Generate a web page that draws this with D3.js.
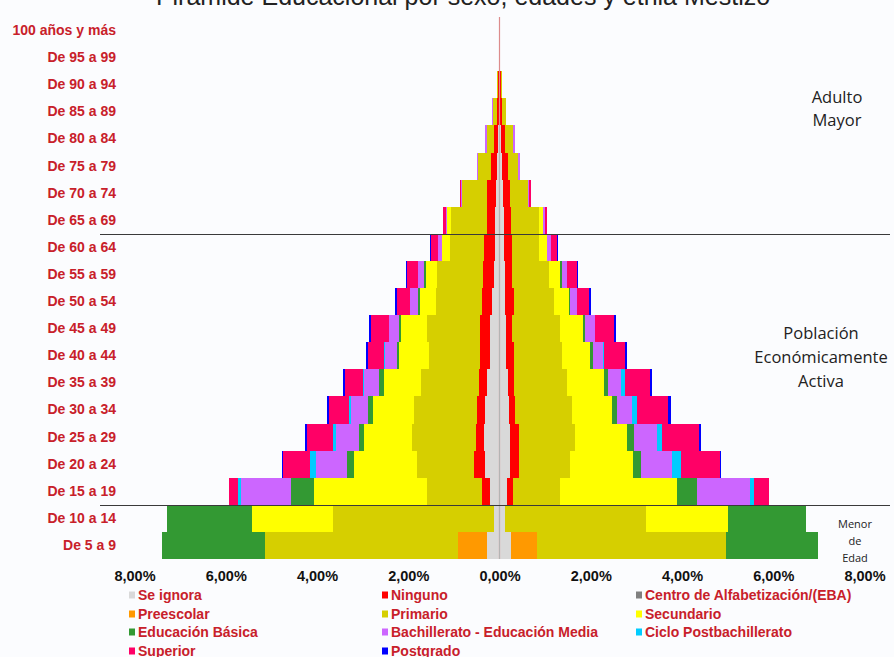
<!DOCTYPE html>
<html><head><meta charset="utf-8">
<script src="https://cdn.jsdelivr.net/npm/d3@7/dist/d3.min.js"></script>
<style>body{margin:0;background:#fbfcfe;} svg{display:block}</style>
</head><body>
<svg id="c" width="894" height="657"></svg>
<script>
const title = "Pirámide Educacional por sexo,  edades y etnia  Mestizo";
const ageGroups = ["100 años y más","De 95 a 99","De 90 a 94","De 85 a 89","De 80 a 84","De 75 a 79","De 70 a 74","De 65 a 69","De 60 a 64","De 55 a 59","De 50 a 54","De 45 a 49","De 40 a 44","De 35 a 39","De 30 a 34","De 25 a 29","De 20 a 24","De 15 a 19","De 10 a 14","De 5 a 9"];
const categories = ["Se ignora","Ninguno","Centro de Alfabetización/(EBA)","Preescolar","Primario","Secundario","Educación Básica","Bachillerato - Educación Media","Ciclo Postbachillerato","Superior","Postgrado"];
const colors = ["#d9d9d9","#ff0000","#808080","#ff9900","#d6cf00","#ffff00","#339933","#cc66ff","#00ccff","#ff0066","#0000ff"];
const xTicks = [-8,-6,-4,-2,0,2,4,6,8];

// Left side (% of population), in ageGroups order
const leftSeIgnora   = [0,0,0,0.01,0.03,0.05,0.07,0.09,0.10,0.12,0.16,0.20,0.20,0.27,0.31,0.34,0.31,0.20,0.13,0.27];
const leftNinguno    = [0.005,0.01,0.03,0.05,0.10,0.13,0.20,0.19,0.23,0.24,0.22,0.22,0.22,0.18,0.18,0.18,0.24,0.18,0,0];
const leftCentro     = [0,0,0,0,0,0,0,0,0,0,0,0,0,0,0,0,0,0,0,0];
const leftPreescolar = [0,0,0,0,0,0,0,0,0,0,0,0,0,0,0,0,0,0,0,0.63];
const leftPrimario   = [0,0,0.02,0.09,0.15,0.29,0.55,0.78,0.76,1.00,1.02,1.16,1.13,1.28,1.38,1.39,1.26,1.22,3.53,4.23];
const leftSecundario = [0,0,0,0,0,0,0,0.08,0.16,0.26,0.34,0.57,0.65,0.80,0.90,1.06,1.37,2.46,1.76,0];
const leftBasica     = [0,0,0,0,0,0,0,0,0.02,0.03,0.05,0.05,0.05,0.11,0.11,0.11,0.16,0.51,1.86,2.26];
const leftBach       = [0,0,0,0.02,0.04,0.03,0.03,0.04,0.07,0.14,0.17,0.23,0.26,0.33,0.38,0.50,0.68,1.09,0,0];
const leftCiclo      = [0,0,0,0,0,0,0,0,0,0,0,0,0.02,0.03,0.03,0.08,0.13,0.07,0,0];
const leftSuperior   = [0,0,0,0,0,0,0.02,0.05,0.17,0.23,0.28,0.39,0.35,0.38,0.44,0.56,0.60,0.19,0,0];
const leftPostgrado  = [0,0,0,0,0,0,0,0,0.02,0.04,0.05,0.05,0.05,0.04,0.05,0.04,0.02,0,0,0];

// Right side
const rightSeIgnora   = [0,0,0,0.01,0.03,0.05,0.07,0.09,0.10,0.12,0.13,0.15,0.15,0.18,0.20,0.22,0.22,0.17,0.13,0.26];
const rightNinguno    = [0.005,0.01,0.03,0.05,0.10,0.13,0.16,0.17,0.18,0.16,0.18,0.13,0.16,0.13,0.15,0.20,0.20,0.12,0,0];
const rightCentro     = [0,0,0,0,0,0,0,0,0,0,0,0,0,0,0,0,0,0,0,0];
const rightPreescolar = [0,0,0,0,0,0,0,0,0,0,0,0,0,0,0,0,0,0,0,0.56];
const rightPrimario   = [0,0,0.02,0.08,0.17,0.22,0.39,0.60,0.58,0.80,0.88,1.05,1.06,1.17,1.24,1.24,1.13,1.04,3.08,4.14];
const rightSecundario = [0,0,0,0,0,0,0,0.09,0.18,0.25,0.33,0.49,0.62,0.80,0.87,1.13,1.37,2.55,1.80,0];
const rightBasica     = [0,0,0,0,0,0,0,0,0.01,0.04,0.03,0.06,0.06,0.10,0.11,0.15,0.18,0.44,1.70,2.01];
const rightBach       = [0,0,0,0,0.03,0.05,0.03,0.04,0.07,0.11,0.15,0.22,0.22,0.29,0.34,0.52,0.67,1.17,0,0];
const rightCiclo      = [0,0,0,0,0,0,0,0,0,0,0,0,0.03,0.07,0.10,0.10,0.20,0.09,0,0];
const rightSuperior   = [0,0,0,0,0,0,0.03,0.05,0.15,0.22,0.27,0.40,0.44,0.56,0.69,0.81,0.86,0.32,0,0];
const rightPostgrado  = [0,0,0,0,0,0,0,0,0.01,0.02,0.04,0.05,0.05,0.04,0.05,0.05,0.02,0,0,0];

const leftSeries = [leftSeIgnora,leftNinguno,leftCentro,leftPreescolar,leftPrimario,leftSecundario,leftBasica,leftBach,leftCiclo,leftSuperior,leftPostgrado];
const rightSeries = [rightSeIgnora,rightNinguno,rightCentro,rightPreescolar,rightPrimario,rightSecundario,rightBasica,rightBach,rightCiclo,rightSuperior,rightPostgrado];

const regionLabels = [
  {lines:["Adulto","Mayor"], x:837, y:97, dy:23, size:16.5},
  {lines:["Población","Económicamente","Activa"], x:821, y:333, dy:24, size:16.5},
  {lines:["Menor","de","Edad"], x:855, y:524, dy:17, size:11}
];

const svg = d3.select("#c");
const x = d3.scaleLinear().domain([-8,8]).range([134.5,864.5]);
const y = d3.scaleBand().domain(ageGroups).range([17,559]).padding(0);
const color = d3.scaleOrdinal().domain(categories).range(colors);

function rows(series){
  return ageGroups.map((g,i)=>{const o={age:g}; categories.forEach((c,k)=>o[c]=series[k][i]); return o;});
}
const stack = d3.stack().keys(categories);
const leftStack = stack(rows(leftSeries));
const rightStack = stack(rows(rightSeries));

svg.append("text").attr("x",463).attr("y",5).attr("text-anchor","middle")
  .style("font-family","'Liberation Sans',Arial,sans-serif").style("font-size","25px").attr("fill","#222").text(title);

const gL = svg.append("g").attr("shape-rendering","crispEdges");
gL.selectAll("g").data(leftStack).join("g").attr("fill",d=>color(d.key))
  .selectAll("rect").data(d=>d).join("rect")
  .attr("x",d=>x(-d[1])).attr("width",d=>x(-d[0])-x(-d[1]))
  .attr("y",d=>y(d.data.age)).attr("height",y.bandwidth());
const gR = svg.append("g").attr("shape-rendering","crispEdges");
gR.selectAll("g").data(rightStack).join("g").attr("fill",d=>color(d.key))
  .selectAll("rect").data(d=>d).join("rect")
  .attr("x",d=>x(d[0])).attr("width",d=>x(d[1])-x(d[0]))
  .attr("y",d=>y(d.data.age)).attr("height",y.bandwidth());

// center axis line
svg.append("line").attr("x1",x(0)).attr("x2",x(0)).attr("y1",y.range()[0]).attr("y2",y.range()[1])
  .attr("stroke","#dc8c8c").attr("stroke-width",1.2);
svg.append("line").attr("x1",x(0)).attr("x2",x(0)).attr("y1",y(ageGroups[4])).attr("y2",y.range()[1])
  .attr("stroke","#b4b4b4").attr("stroke-width",1);

// group separators
[ageGroups[8], ageGroups[18]].forEach(g=>{
  svg.append("line").attr("x1",100).attr("x2",890).attr("y1",Math.round(y(g))+0.5).attr("y2",Math.round(y(g))+0.5)
    .attr("stroke","#3a3a3a").attr("stroke-width",1);
});

// y labels
const yAxis = d3.axisLeft(y).tickSize(0).tickPadding(0);
const ya = svg.append("g").attr("transform","translate(116,0)").call(yAxis);
ya.select(".domain").remove();
ya.selectAll("text").style("font-family","'Liberation Sans',Arial,sans-serif").style("font-size","14px")
  .style("font-weight","bold").attr("fill","#c8202a");

// x axis
const fmt = v => d3.format(".2f")(Math.abs(v)).replace(".",",")+"%";
const xAxis = d3.axisBottom(x).tickValues(xTicks).tickFormat(fmt).tickSize(0).tickPadding(0);
const xa = svg.append("g").attr("transform","translate(0,571)").call(xAxis);
xa.select(".domain").remove();
xa.selectAll("text").style("font-family","'Liberation Sans',Arial,sans-serif").style("font-size","14.5px")
  .style("font-weight","bold").attr("fill","#111");

// region labels
regionLabels.forEach(r=>{
  r.lines.forEach((t,i)=>{
    svg.append("text").attr("x",r.x).attr("y",r.y+i*r.dy).attr("dy","0.35em").attr("text-anchor","middle")
      .style("font-family","'Open Sans',sans-serif").style("font-size",r.size+"px").attr("fill","#222").text(t);
  });
});

// legend
const colX = [129,382,636];
const rowY = [595,614,632,651];
const lg = svg.append("g");
categories.forEach((c,i)=>{
  const cx = colX[i%3], cy = rowY[Math.floor(i/3)];
  lg.append("rect").attr("x",cx).attr("y",cy-3.5).attr("width",6).attr("height",7).attr("fill",color(c));
  lg.append("text").attr("x",cx+9).attr("y",cy).attr("dy","0.35em")
    .style("font-family","'Liberation Sans',Arial,sans-serif").style("font-size","14px").style("font-weight","bold")
    .attr("fill","#c8202a").text(c);
});
</script>
</body></html>
